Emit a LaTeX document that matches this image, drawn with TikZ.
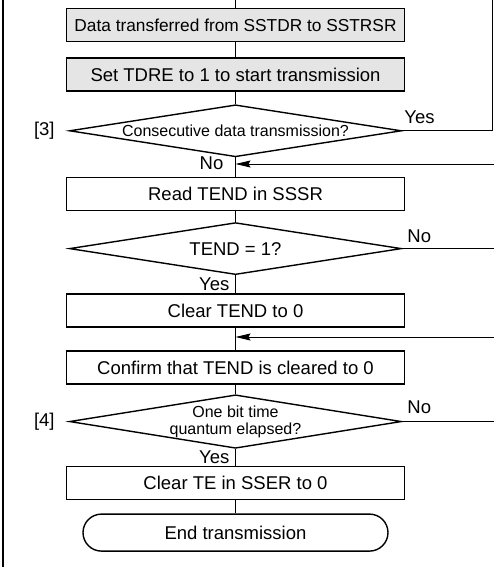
\documentclass[tikz,border=0pt]{standalone}
\usepackage{fontspec}
\setmainfont{Liberation Sans}
\usepackage{tikz}
\usetikzlibrary{positioning,arrows.meta,shapes.geometric}

\begin{document}
\begin{tikzpicture}[x=1pt, y=1pt,
  box/.style={draw, line width=1.4pt, minimum height=33pt, minimum width=338pt, align=center, inner sep=1pt, font=\fontsize{18.5}{22}\selectfont},
  graybox/.style={box, fill=black!10},
  decision/.style={draw, diamond, aspect=6.1, line width=1.4pt, minimum width=332pt, minimum height=52pt, inner sep=0pt, align=center, font=\fontsize{18.5}{22}\selectfont},
  term/.style={draw, rounded corners=18.5pt, line width=1.4pt, minimum width=305pt, minimum height=37pt, font=\fontsize{18.5}{22}\selectfont},
  lbl/.style={inner sep=1pt, font=\fontsize{18.5}{22}\selectfont},
  line/.style={line width=0.9pt},
  arr/.style={line, -{Stealth[length=15pt, width=7pt, inset=2pt]}}]
  \useasboundingbox (0,0) rectangle (494,-567);
  \coordinate (top) at (235.5,0);
  \coordinate (edge) at (494,0);
  \coordinate (looptop) at (492.7,0);
  \coordinate (frametop) at (2.7,0);
  \coordinate (framebot) at (2.7,-567);
  \coordinate (in1) at (494,-164);
  \coordinate (in2) at (494,-337);
  \draw[line width=2pt] (frametop) -- (framebot);

  \node[graybox, font=\fontsize{17.3}{20}\selectfont] (xfer) at (235.5,-25) {Data transferred from SSTDR to SSTRSR};
  \node[graybox, below=15pt of xfer] (tdre) {Set TDRE to 1 to start transmission};
  \node[decision, below=12.5pt of tdre, font=\fontsize{16}{19}\selectfont] (consec) {Consecutive data transmission?};
  \node[box, below=19.5pt of consec] (read) {Read TEND in SSSR};
  \node[decision, below=10.5pt of read] (tendq) {TEND = 1?};
  \node[box, below=18pt of tendq] (clr) {Clear TEND to 0};
  \node[box, below=22.5pt of clr] (conf) {Confirm that TEND is cleared to 0};
  \node[decision, below=9.5pt of conf, font=\fontsize{16}{17}\selectfont] (bitq) {One bit time\\quantum elapsed?};
  \node[box, below=16.5pt of bitq] (clrte) {Clear TE in SSER to 0};
  \node[term, below=13.5pt of clrte] (endt) {End transmission};

  \node[lbl, left=13pt of consec] (tag3) {[3]};
  \node[lbl, left=13pt of bitq] (tag4) {[4]};
  \node[lbl, above right=6pt and 1pt of consec.east] (yes1) {Yes};
  \node[lbl, below left=-2pt and 11pt of consec.south] (no1) {No};
  \node[lbl, above right=5pt and 4pt of tendq.east] (no2) {No};
  \node[lbl, below left=1pt and 5pt of tendq.south] (yes2) {Yes};
  \node[lbl, above right=6.5pt and 4pt of bitq.east] (no3) {No};
  \node[lbl, below left=0.5pt and 5pt of bitq.south] (yes3) {Yes};

  \draw[line] (top) -- (xfer);
  \draw[line] (xfer) -- (tdre);
  \draw[line] (tdre) -- (consec);
  \draw[line] (consec) -- (read);
  \draw[line] (read) -- (tendq);
  \draw[line] (tendq) -- (clr);
  \draw[line] (clr) -- (conf);
  \draw[line] (conf) -- (bitq);
  \draw[line] (bitq) -- (clrte);
  \draw[line] (clrte) -- (endt);
  \draw[line] (consec.east) -| (looptop);
  \draw[arr] (in1) -- (in1 -| consec.south);
  \draw[line] (tendq.east) -- (tendq.east -| edge);
  \draw[arr] (in2) -- (in2 -| conf.north);
  \draw[line] (bitq.east) -- (bitq.east -| edge);
\end{tikzpicture}
\end{document}
